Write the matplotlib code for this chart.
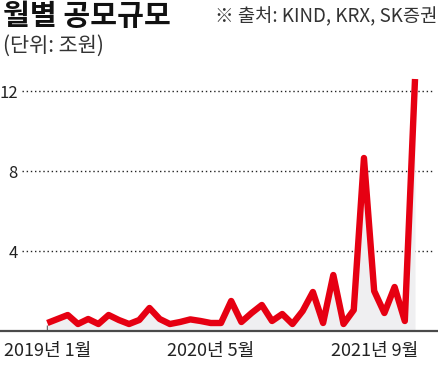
import numpy as np
import matplotlib
matplotlib.use("Agg")
import matplotlib.pyplot as plt

plt.rcParams['font.family'] = ['Noto Sans CJK KR', 'DejaVu Sans']

# 월별 공모규모 (조원), 2019년 1월 ~ 2022년 1월
values = [0.4, 0.6, 0.8, 0.35, 0.6, 0.35, 0.8, 0.55, 0.35, 0.55,
          1.15, 0.6, 0.35, 0.45, 0.58, 0.5, 0.4, 0.4, 1.5, 0.45,
          0.9, 1.3, 0.5, 0.85, 0.35, 1.0, 1.95, 0.4, 2.8, 0.35,
          1.05, 8.65, 2.0, 0.9, 2.2, 0.5, 12.6]
tick_idx = [0, 16, 32]
tick_labels = ["2019년 1월", "2020년 5월", "2021년 9월"]
y_ticks = [4, 8, 12]

W, H = 439, 371
fig = plt.figure(figsize=(W / 100, H / 100), dpi=100)

# axes box in pixels: left 22, right 433, bottom 331, top 61
ax = fig.add_axes([22 / W, (H - 331) / H, 411 / W, 270 / H])
x = np.arange(len(values))

ax.fill_between(x, 0, values, color="#efeff1", lw=0, zorder=1)
ax.plot(x, values, color="#e60012", lw=4.6, solid_joinstyle="round",
        solid_capstyle="butt", zorder=3)

ax.set_xlim(-2.48, 37.76)
ax.set_ylim(0, 13.5)

for s in ax.spines.values():
    s.set_visible(False)
ax.axhline(0, xmin=-0.06, xmax=1.02, color="#4a4a4a", lw=1.6,
           clip_on=False, zorder=4)

ax.set_yticks(y_ticks)
ax.set_yticklabels([str(v) for v in y_ticks])
ax.yaxis.grid(True, color="#222222", linestyle=(0, (1, 2)), lw=1.0)
ax.set_axisbelow(True)
ax.tick_params(axis="y", length=0, pad=3, labelsize=12, labelcolor="#222222")

ax.set_xticks(tick_idx)
ax.set_xticklabels(tick_labels)
ax.tick_params(axis="x", direction="in", length=4, width=1, color="#555555",
               pad=8, labelsize=13, labelcolor="#222222")

fig.text(3 / W, 1 - 1 / H, "월별 공모규모", ha="left", va="top",
         fontsize=21, fontweight="black", color="#111111")
fig.text(3 / W, 1 - 35 / H, "(단위: 조원)", ha="left", va="top",
         fontsize=15, color="#333333")
fig.text(437 / W, 1 - 6 / H, "※ 출처: KIND, KRX, SK증권", ha="right", va="top",
         fontsize=13.5, color="#333333")

fig.savefig("out.png", dpi=100)
